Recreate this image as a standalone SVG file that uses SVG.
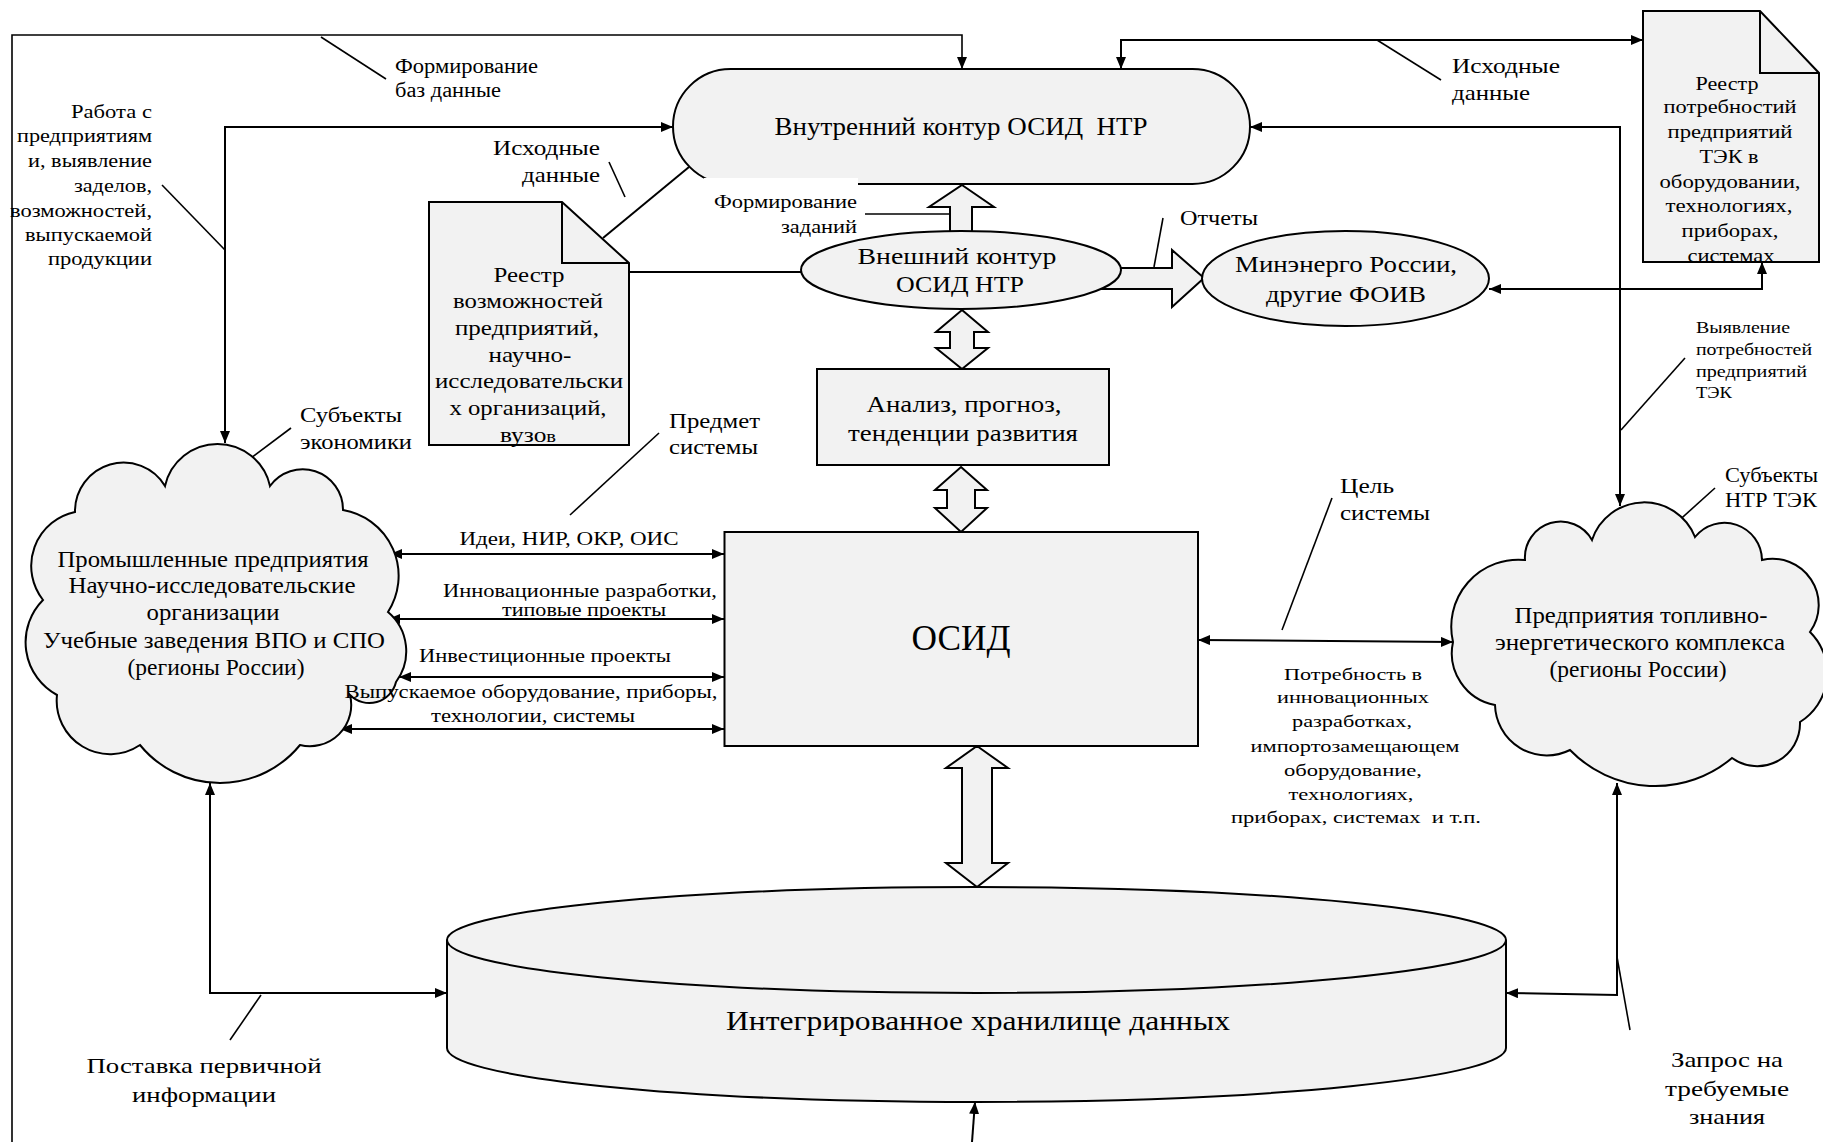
<svg xmlns="http://www.w3.org/2000/svg" width="1823" height="1142" viewBox="0 0 1823 1142">
  <defs>
    <marker id="ah" viewBox="0 0 12 10" refX="12" refY="5" markerWidth="12" markerHeight="10" markerUnits="userSpaceOnUse" orient="auto-start-reverse">
      <path d="M0,0 L12,5 L0,10 z" fill="#000"/>
    </marker>
  </defs>
  <style>
    .shape { fill: #f2f2f2; stroke: #000; stroke-width: 2; }
    .block { fill: #f2f2f2; stroke: #000; stroke-width: 2; stroke-linejoin: miter; }
    .flow { fill: none; stroke: #000; stroke-width: 2; }
    .frame { fill: none; stroke: #000; stroke-width: 1.6; }
    .lead { fill: none; stroke: #000; stroke-width: 1.6; }
    .both { marker-start: url(#ah); marker-end: url(#ah); }
    .one { marker-end: url(#ah); }
    text { font-family: "Liberation Serif", "Times New Roman", serif; fill: #000; }
    .c { text-anchor: middle; }
    .e { text-anchor: end; }
    .pre { white-space: pre; }
  </style>
  <rect x="0" y="0" width="1823" height="1142" fill="#fff"/>

  <!-- connectors: flow lines, leader lines and block arrows -->
  <g id="connectors">
    <!-- outer frame line feeding the inner contour -->
    <path class="frame one" d="M12,1142 L12,35 L962,35 L962,69"/>
    <!-- inner contour <-> economy subjects -->
    <path class="flow both" d="M673,127 L225,127 L225,443"/>
    <!-- inner contour <-> needs register -->
    <path class="flow both" d="M1121,69 L1121,40 L1643,40"/>
    <!-- inner contour <-> fuel-energy enterprises -->
    <path class="flow both" d="M1250,127 L1620,127 L1620,506"/>
    <!-- ministry <-> needs register -->
    <path class="flow both" d="M1489,289 L1762,289 L1762,262"/>
    <!-- capabilities register links -->
    <path class="flow" d="M629,272 L801,272"/>
    <path class="flow" d="M689,167 L603,238"/>
    <!-- economy subjects <-> OSID -->
    <path class="flow both" d="M390,554 L724,554"/>
    <path class="flow both" d="M388,619 L724,619"/>
    <path class="flow both" d="M399,677 L724,677"/>
    <path class="flow both" d="M340,729 L724,729"/>
    <!-- OSID <-> fuel-energy enterprises -->
    <path class="flow both" d="M1198,640 L1453,642"/>
    <!-- clouds <-> integrated storage -->
    <path class="flow both" d="M447,993 L210,993 L210,783"/>
    <path class="flow both" d="M1506,993 L1617,995 L1617,783"/>
    <path class="flow one" d="M972,1142 L975,1102"/>

    <!-- leader lines of the labels -->
    <path class="lead" d="M321,37 L386,79"/>
    <path class="lead" d="M162,185 L225,250"/>
    <path class="lead" d="M609,162 L625,197"/>
    <path class="lead" d="M865,214 L950,214"/>
    <path class="lead" d="M1163,218 L1154,267"/>
    <path class="lead" d="M1377,40 L1441,80"/>
    <path class="lead" d="M1685,358 L1621,430"/>
    <path class="lead" d="M291,428 L208,490"/>
    <path class="lead" d="M659,433 L570,515"/>
    <path class="lead" d="M1332,498 L1282,630"/>
    <path class="lead" d="M1715,488 L1633,562"/>
    <path class="lead" d="M261,995 L230,1040"/>
    <path class="lead" d="M1617,957 L1630,1030"/>

    <!-- block arrows -->
    <polygon class="block" points="962,185 994,207 972,207 972,236 950,236 950,207 929,207"/>
    <polygon class="block" points="1100,268 1172,268 1172,250 1204,278 1172,307 1172,289 1100,289"/>
    <polygon class="block" points="962,310 988,332 974,332 974,348 988,348 962,369 936,348 950,348 950,332 936,332"/>
    <polygon class="block" points="961,467 987,490 975,490 975,508 987,508 961,532 935,508 947,508 947,490 935,490"/>
    <polygon class="block" points="977,746 1008,768 992,768 992,863 1008,863 977,887 946,863 962,863 962,768 946,768"/>
  </g>

  <!-- inner contour -->
  <g id="node-inner-contour">
    <rect class="shape" x="673" y="69" width="577" height="115" rx="57.5" ry="57.5"/>
    <text class="c pre" x="961" y="135" font-size="26" textLength="373" lengthAdjust="spacingAndGlyphs">Внутренний контур ОСИД  НТР</text>
  </g>

  <!-- register of capabilities -->
  <g id="node-capabilities-register">
    <path class="shape" d="M429,202 L562,202 L629,263 L629,445 L429,445 Z"/>
    <path class="flow" d="M562,202 L562,263 L629,263"/>
    <g font-size="21">
      <text class="c" x="529" y="282" textLength="71" lengthAdjust="spacingAndGlyphs">Реестр</text>
      <text class="c" x="528" y="308" textLength="150" lengthAdjust="spacingAndGlyphs">возможностей</text>
      <text class="c" x="527" y="335" textLength="144" lengthAdjust="spacingAndGlyphs">предприятий,</text>
      <text class="c" x="530" y="362" textLength="83" lengthAdjust="spacingAndGlyphs">научно-</text>
      <text class="c" x="529" y="388" textLength="188" lengthAdjust="spacingAndGlyphs">исследовательски</text>
      <text class="c" x="528" y="415" textLength="157" lengthAdjust="spacingAndGlyphs">х организаций,</text>
      <text class="c" x="528" y="442" textLength="56" lengthAdjust="spacingAndGlyphs">вузо<tspan font-size="17">в</tspan></text>
    </g>
  </g>

  <!-- external contour -->
  <g id="node-external-contour">
    <ellipse class="shape" cx="961" cy="270" rx="160" ry="39"/>
    <text class="c" x="957" y="264" font-size="23" textLength="199" lengthAdjust="spacingAndGlyphs">Внешний контур</text>
    <text class="c" x="960" y="292" font-size="23" textLength="128" lengthAdjust="spacingAndGlyphs">ОСИД НТР</text>
  </g>

  <!-- ministry -->
  <g id="node-ministry">
    <ellipse class="shape" cx="1345.5" cy="278.5" rx="143.5" ry="47.5"/>
    <text class="c" x="1346" y="272" font-size="24" textLength="222" lengthAdjust="spacingAndGlyphs">Минэнерго России,</text>
    <text class="c" x="1346" y="302" font-size="24" textLength="160" lengthAdjust="spacingAndGlyphs">другие ФОИВ</text>
  </g>

  <!-- register of needs -->
  <g id="node-needs-register">
    <path class="shape" d="M1643,11 L1760,11 L1819,73 L1819,262 L1643,262 Z"/>
    <path class="flow" d="M1760,11 L1760,73 L1819,73"/>
    <g font-size="19">
      <text class="c" x="1727" y="90" textLength="63" lengthAdjust="spacingAndGlyphs">Реестр</text>
      <text class="c" x="1730" y="113" textLength="133" lengthAdjust="spacingAndGlyphs">потребностий</text>
      <text class="c" x="1730" y="138" textLength="125" lengthAdjust="spacingAndGlyphs">предприятий</text>
      <text class="c" x="1729" y="163" textLength="59" lengthAdjust="spacingAndGlyphs">ТЭК в</text>
      <text class="c" x="1730" y="188" textLength="141" lengthAdjust="spacingAndGlyphs">оборудовании,</text>
      <text class="c" x="1729" y="212" textLength="127" lengthAdjust="spacingAndGlyphs">технологиях,</text>
      <text class="c" x="1730" y="237" textLength="97" lengthAdjust="spacingAndGlyphs">приборах,</text>
      <text class="c" x="1731" y="262" textLength="87" lengthAdjust="spacingAndGlyphs">системах</text>
    </g>
  </g>

  <!-- analysis -->
  <g id="node-analysis">
    <rect class="shape" x="817" y="369" width="292" height="96"/>
    <text class="c" x="964" y="412" font-size="23" textLength="195" lengthAdjust="spacingAndGlyphs">Анализ, прогноз,</text>
    <text class="c" x="963" y="441" font-size="23" textLength="230" lengthAdjust="spacingAndGlyphs">тенденции развития</text>
  </g>

  <!-- OSID -->
  <g id="node-osid">
    <rect class="shape" x="724.5" y="532" width="473.5" height="214"/>
    <text class="c" x="961" y="650" font-size="35" textLength="99" lengthAdjust="spacingAndGlyphs">ОСИД</text>
  </g>

  <!-- economy subjects -->
  <g id="node-economy-subjects">
    <path class="shape" d="M75,512 A48.5,48.5 0 0 1 165,486 A53.8,53.8 0 0 1 270,486 A40.3,40.3 0 0 1 343,510 A66.8,66.8 0 0 1 388,612 A51.4,51.4 0 0 1 396,682 A27.4,27.4 0 0 1 350,695 A41.3,41.3 0 0 1 300,745 A103.2,103.2 0 0 1 140,745 A53.4,53.4 0 0 1 57,695 A60,60 0 0 1 43,600 A55.1,55.1 0 0 1 75,512 Z"/>
    <g font-size="22.5">
      <text class="c" x="213" y="567" textLength="311" lengthAdjust="spacingAndGlyphs">Промышленные предприятия</text>
      <text class="c" x="212" y="593" textLength="287" lengthAdjust="spacingAndGlyphs">Научно-исследовательские</text>
      <text class="c" x="213" y="620" textLength="133" lengthAdjust="spacingAndGlyphs">организации</text>
      <text class="c" x="214" y="648" textLength="342" lengthAdjust="spacingAndGlyphs">Учебные заведения ВПО и СПО</text>
      <text class="c" x="216" y="675" textLength="177" lengthAdjust="spacingAndGlyphs">(регионы России)</text>
    </g>
  </g>

  <!-- fuel-energy enterprises -->
  <g id="node-fuel-energy">
    <path class="shape" d="M1525,560 A35.8,35.8 0 0 1 1592,540 A54.8,54.8 0 0 1 1695,537 A37.6,37.6 0 0 1 1762,560 A46.2,46.2 0 0 1 1810,632 A57.6,57.6 0 0 1 1800,722 A42.8,42.8 0 0 1 1732,758 A118.8,118.8 0 0 1 1570,750 A51.9,51.9 0 0 1 1495,705 A52.8,52.8 0 0 1 1453,642 A67.1,67.1 0 0 1 1525,560 Z"/>
    <g font-size="22.5">
      <text class="c" x="1641" y="623" textLength="253" lengthAdjust="spacingAndGlyphs">Предприятия топливно-</text>
      <text class="c" x="1640" y="650" textLength="290" lengthAdjust="spacingAndGlyphs">энергетического комплекса</text>
      <text class="c" x="1638" y="677" textLength="177" lengthAdjust="spacingAndGlyphs">(регионы России)</text>
    </g>
  </g>

  <!-- integrated data storage -->
  <g id="node-storage">
    <path class="shape" d="M447,940 A529.5,53 0 0 1 1506,940 L1506,1048 A529.5,54 0 0 1 447,1048 Z"/>
    <path class="flow" d="M447,940 A529.5,53 0 0 0 1506,940"/>
    <text class="c" x="978" y="1030" font-size="27" textLength="504" lengthAdjust="spacingAndGlyphs">Интегрированное хранилище данных</text>
  </g>

  <!-- connector labels -->
  <g id="labels">
    <text x="395" y="73" font-size="20" textLength="143" lengthAdjust="spacingAndGlyphs">Формирование</text>
    <text x="395" y="97" font-size="20" textLength="106" lengthAdjust="spacingAndGlyphs">баз данные</text>

    <g font-size="18.5">
      <text class="e" x="152" y="118" textLength="81" lengthAdjust="spacingAndGlyphs">Работа с</text>
      <text class="e" x="152" y="142" textLength="135" lengthAdjust="spacingAndGlyphs">предприятиям</text>
      <text class="e" x="152" y="167" textLength="124" lengthAdjust="spacingAndGlyphs">и, выявление</text>
      <text class="e" x="152" y="192" textLength="78" lengthAdjust="spacingAndGlyphs">заделов,</text>
      <text class="e" x="152" y="217" textLength="142" lengthAdjust="spacingAndGlyphs">возможностей,</text>
      <text class="e" x="152" y="241" textLength="127" lengthAdjust="spacingAndGlyphs">выпускаемой</text>
      <text class="e" x="152" y="265" textLength="104" lengthAdjust="spacingAndGlyphs">продукции</text>
    </g>

    <text class="e" x="600" y="155" font-size="21" textLength="107" lengthAdjust="spacingAndGlyphs">Исходные</text>
    <text class="e" x="600" y="182" font-size="21" textLength="78" lengthAdjust="spacingAndGlyphs">данные</text>

    <!-- task label sits on a white box over the contour edge -->
    <rect x="704" y="178" width="154" height="60" fill="#fff"/>
    <text class="e" x="857" y="208" font-size="18.5" textLength="143" lengthAdjust="spacingAndGlyphs">Формирование</text>
    <text class="e" x="857" y="233" font-size="18.5" textLength="76" lengthAdjust="spacingAndGlyphs">заданий</text>

    <text x="1180" y="225" font-size="21" textLength="78" lengthAdjust="spacingAndGlyphs">Отчеты</text>

    <text x="1452" y="73" font-size="21" textLength="108" lengthAdjust="spacingAndGlyphs">Исходные</text>
    <text x="1452" y="100" font-size="21" textLength="78" lengthAdjust="spacingAndGlyphs">данные</text>

    <g font-size="16.5">
      <text x="1696" y="333" textLength="94" lengthAdjust="spacingAndGlyphs">Выявление</text>
      <text x="1696" y="355" textLength="116" lengthAdjust="spacingAndGlyphs">потребностей</text>
      <text x="1696" y="377" textLength="111" lengthAdjust="spacingAndGlyphs">предприятий</text>
      <text x="1696" y="398" textLength="36" lengthAdjust="spacingAndGlyphs">ТЭК</text>
    </g>

    <text x="300" y="422" font-size="21" textLength="102" lengthAdjust="spacingAndGlyphs">Субъекты</text>
    <text x="300" y="449" font-size="21" textLength="112" lengthAdjust="spacingAndGlyphs">экономики</text>

    <text x="669" y="428" font-size="21" textLength="91" lengthAdjust="spacingAndGlyphs">Предмет</text>
    <text x="669" y="454" font-size="21" textLength="89" lengthAdjust="spacingAndGlyphs">системы</text>

    <g font-size="18">
      <text class="c" x="569" y="545" textLength="219" lengthAdjust="spacingAndGlyphs">Идеи, НИР, ОКР, ОИС</text>
      <text class="c" x="580" y="597" textLength="274" lengthAdjust="spacingAndGlyphs">Инновационные разработки,</text>
      <text class="c" x="584" y="616" textLength="164" lengthAdjust="spacingAndGlyphs">типовые проекты</text>
      <text class="c" x="545" y="662" textLength="252" lengthAdjust="spacingAndGlyphs">Инвестиционные проекты</text>
      <text class="c" x="531" y="698" textLength="373" lengthAdjust="spacingAndGlyphs">Выпускаемое оборудование, приборы,</text>
      <text class="c" x="533" y="722" textLength="204" lengthAdjust="spacingAndGlyphs">технологии, системы</text>
    </g>

    <text x="1340" y="493" font-size="21" textLength="54" lengthAdjust="spacingAndGlyphs">Цель</text>
    <text x="1340" y="520" font-size="21" textLength="90" lengthAdjust="spacingAndGlyphs">системы</text>

    <g font-size="17.5">
      <text class="c" x="1353" y="680" textLength="138" lengthAdjust="spacingAndGlyphs">Потребность в</text>
      <text class="c" x="1353" y="703" textLength="152" lengthAdjust="spacingAndGlyphs">инновационных</text>
      <text class="c" x="1352" y="727" textLength="120" lengthAdjust="spacingAndGlyphs">разработках,</text>
      <text class="c" x="1355" y="752" textLength="209" lengthAdjust="spacingAndGlyphs">импортозамещающем</text>
      <text class="c" x="1353" y="776" textLength="138" lengthAdjust="spacingAndGlyphs">оборудование,</text>
      <text class="c" x="1351" y="800" textLength="125" lengthAdjust="spacingAndGlyphs">технологиях,</text>
      <text class="c pre" x="1356" y="823" textLength="250" lengthAdjust="spacingAndGlyphs">приборах, системах  и т.п.</text>
    </g>

    <text x="1725" y="482" font-size="20" textLength="93" lengthAdjust="spacingAndGlyphs">Субъекты</text>
    <text x="1725" y="507" font-size="20" textLength="92" lengthAdjust="spacingAndGlyphs">НТР ТЭК</text>

    <text class="c" x="204" y="1073" font-size="22" textLength="235" lengthAdjust="spacingAndGlyphs">Поставка первичной</text>
    <text class="c" x="204" y="1102" font-size="22" textLength="144" lengthAdjust="spacingAndGlyphs">информации</text>

    <text class="c" x="1727" y="1067" font-size="22" textLength="112" lengthAdjust="spacingAndGlyphs">Запрос на</text>
    <text class="c" x="1727" y="1096" font-size="22" textLength="124" lengthAdjust="spacingAndGlyphs">требуемые</text>
    <text class="c" x="1727" y="1124" font-size="22" textLength="76" lengthAdjust="spacingAndGlyphs">знания</text>
  </g>
</svg>
